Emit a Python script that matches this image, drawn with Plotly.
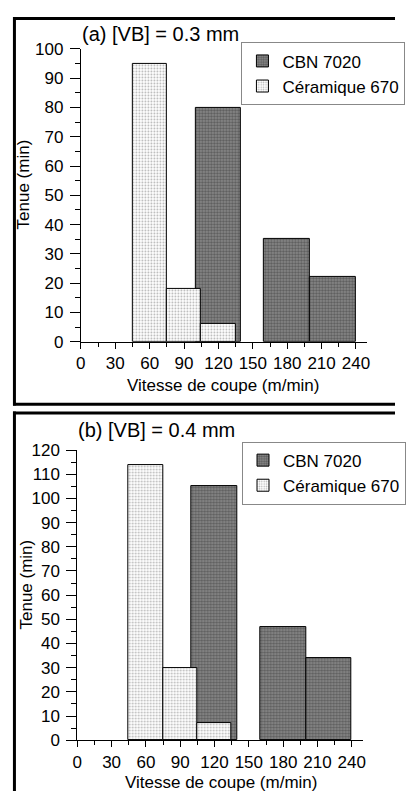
import plotly.graph_objects as go

# ---- data ----
cbn_speed = [120, 180, 220]
cbn_tenue_a = [80, 35, 22]
cbn_tenue_b = [105, 47, 34]
cer_speed = [60, 90, 120]
cer_tenue_a = [95, 18, 6]
cer_tenue_b = [114, 30, 7]
x_ticks = [0, 30, 60, 90, 120, 150, 180, 210, 240]
series_names = ["CBN 7020", "Céramique 670"]
panel_titles = ["(a) [VB] = 0.3 mm", "(b) [VB] = 0.4 mm"]
x_title = "Vitesse de coupe (m/min)"
y_title = "Tenue (min)"

OFF = 8  # browser's default body margin
W, H = 414 - 2 * OFF, 809 - 2 * OFF
FONT = "Liberation Sans, Arial, sans-serif"
CBN_W = 40
CER_W = 30

def px(x):
    return (x - OFF) / W

def py(y):
    return 1 - (y - OFF) / H

cbn_pattern = dict(shape=".", bgcolor="#8c8c8c", fgcolor="#2e2e2e", size=3, solidity=0.5)
cer_pattern = dict(shape=".", bgcolor="#ffffff", fgcolor="#6a6a6a", size=3, solidity=0.3)

fig = go.Figure()

panels = [
    dict(cbn=cbn_tenue_a, cer=cer_tenue_a, xa="x", ya="y", legend="legend"),
    dict(cbn=cbn_tenue_b, cer=cer_tenue_b, xa="x2", ya="y2", legend="legend2"),
]
for p in panels:
    fig.add_trace(go.Bar(
        x=cbn_speed, y=p["cbn"], width=[CBN_W] * len(cbn_speed), name=series_names[0],
        marker=dict(color="#5a5a5a", pattern=cbn_pattern, line=dict(color="black", width=1)),
        xaxis=p["xa"], yaxis=p["ya"], legend=p["legend"], showlegend=True,
    ))
    fig.add_trace(go.Bar(
        x=cer_speed, y=p["cer"], width=[CER_W] * len(cer_speed), name=series_names[1],
        marker=dict(color="#d8d8d8", pattern=cer_pattern, line=dict(color="black", width=1)),
        xaxis=p["xa"], yaxis=p["ya"], legend=p["legend"], showlegend=True,
    ))

axis_common = dict(
    showline=True, linecolor="black", linewidth=1, showgrid=False, zeroline=False,
    ticks="outside", tickcolor="black", tickwidth=1,
    tickfont=dict(family=FONT, size=17, color="black"),
)

fig.update_layout(
    width=W, height=H, autosize=False,
    margin=dict(l=0, r=0, t=0, b=0),
    paper_bgcolor="white", plot_bgcolor="white",
    barmode="overlay", bargap=0,
    font=dict(family=FONT, color="black"),
    xaxis=dict(domain=[px(78.7), px(377.3)], range=[0, 250], anchor="y",
               tickvals=x_ticks, ticklen=6,
               minor=dict(dtick=15, tick0=0, ticklen=4, ticks="outside", tickcolor="black"),
               **axis_common),
    yaxis=dict(domain=[py(340.7), py(40.7)], range=[0, 100], anchor="x",
               dtick=10, tick0=0, ticklen=10, ticklabelstandoff=3,
               minor=dict(dtick=5, tick0=0, ticklen=5, ticks="outside", tickcolor="black"),
               **axis_common),
    xaxis2=dict(domain=[px(75), px(372.9)], range=[0, 250], anchor="y2",
                tickvals=x_ticks, ticklen=6,
                minor=dict(dtick=15, tick0=0, ticklen=4, ticks="outside", tickcolor="black"),
                **axis_common),
    yaxis2=dict(domain=[py(749), py(451.7)], range=[0, 120], anchor="x2",
                dtick=10, tick0=0, ticklen=10, ticklabelstandoff=3,
                minor=dict(dtick=5, tick0=0, ticklen=5, ticks="outside", tickcolor="black"),
                **axis_common),
    legend=dict(x=px(246), y=py(34), xanchor="left", yanchor="top",
                bordercolor="#888888", borderwidth=1, bgcolor="white",
                font=dict(family=FONT, size=17, color="black"), traceorder="normal"),
    legend2=dict(x=px(247), y=py(443), xanchor="left", yanchor="top",
                 bordercolor="#888888", borderwidth=1, bgcolor="white",
                 font=dict(family=FONT, size=17, color="black"), traceorder="normal"),
)

ann = []
ann.append(dict(text=panel_titles[0], x=px(78), y=py(25), xref="paper", yref="paper",
                xanchor="left", yanchor="middle", showarrow=False,
                font=dict(family=FONT, size=20, color="black")))
ann.append(dict(text=panel_titles[1], x=px(74), y=py(431), xref="paper", yref="paper",
                xanchor="left", yanchor="middle", showarrow=False,
                font=dict(family=FONT, size=20, color="black")))
ann.append(dict(text=x_title, x=px(227), y=py(386), xref="paper", yref="paper",
                xanchor="center", yanchor="middle", showarrow=False,
                font=dict(family=FONT, size=17, color="black")))
ann.append(dict(text=x_title, x=px(225), y=py(792), xref="paper", yref="paper",
                xanchor="center", yanchor="middle", showarrow=False,
                font=dict(family=FONT, size=17, color="black")))
ann.append(dict(text=y_title, x=px(19), y=py(180), xref="paper", yref="paper",
                xanchor="center", yanchor="middle", showarrow=False, textangle=-90,
                font=dict(family=FONT, size=17, color="black")))
ann.append(dict(text=y_title, x=px(22), y=py(589), xref="paper", yref="paper",
                xanchor="center", yanchor="middle", showarrow=False, textangle=-90,
                font=dict(family=FONT, size=17, color="black")))
fig.update_layout(annotations=ann)

# panel frames, kept inside the figure (right side / lower edge lie off the picture)
L = OFF + 1.5
R = OFF + W
frame = dict(type="line", xref="paper", yref="paper", line=dict(color="black", width=3), layer="above")
fig.update_layout(shapes=[
    dict(frame, x0=px(OFF), x1=px(R), y0=py(L), y1=py(L)),
    dict(frame, x0=px(L), x1=px(L), y0=py(OFF), y1=py(406)),
    dict(frame, x0=px(OFF), x1=px(R), y0=py(404.7), y1=py(404.7)),
    dict(frame, x0=px(OFF), x1=px(R), y0=py(413.7), y1=py(413.7)),
    dict(frame, x0=px(L), x1=px(L), y0=py(412.3), y1=py(OFF + H)),
])

fig.write_html("out.html", config={"displayModeBar": False})
